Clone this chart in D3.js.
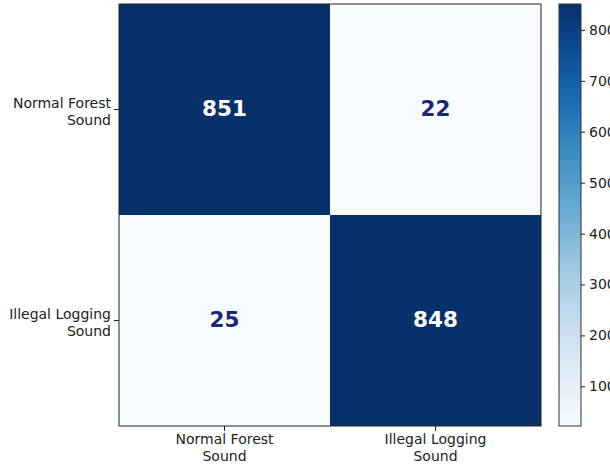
<!DOCTYPE html>
<html>
<head>
<meta charset="utf-8">
<script src="https://cdn.jsdelivr.net/npm/d3@7"></script>
<style>
  html, body { margin: 0; padding: 0; background: #ffffff; }
  svg { display: block; font-family: "DejaVu Sans", sans-serif; }
</style>
</head>
<body>
<svg id="chart" width="610" height="465"></svg>
<script>
// Confusion matrix: rows = true class, columns = predicted class
const classes = ["Normal Forest\nSound", "Illegal Logging\nSound"];
const rowNormal = [851, 22];
const rowLogging = [25, 848];
const matrix = [rowNormal, rowLogging];
const colorbarTicks = [100, 200, 300, 400, 500, 600, 700, 800];

const svg = d3.select("#chart");
const plot = { left: 119, top: 4, size: 422 };
const cbar = { left: 559, width: 22 };
const labelSize = 14;

const allVals = matrix.flat();
const vmin = d3.min(allVals), vmax = d3.max(allVals);
const color = d3.scaleSequential(d3.interpolateBlues).domain([vmin, vmax]);

const x = d3.scaleBand().domain(d3.range(classes.length))
  .range([plot.left, plot.left + plot.size]);
const y = d3.scaleBand().domain(d3.range(classes.length))
  .range([plot.top, plot.top + plot.size]);

const cells = [];
matrix.forEach((row, i) => row.forEach((v, j) => cells.push({ i, j, v })));

// heatmap cells
svg.append("g").selectAll("rect").data(cells).join("rect")
  .attr("x", d => x(d.j)).attr("y", d => y(d.i))
  .attr("width", x.bandwidth()).attr("height", y.bandwidth())
  .attr("fill", d => color(d.v));

// cell annotations
const thresh = (vmin + vmax) / 2;
svg.append("g").selectAll("text").data(cells).join("text")
  .attr("x", d => x(d.j) + x.bandwidth() / 2)
  .attr("y", d => y(d.i) + y.bandwidth() / 2)
  .attr("dy", "0.32em")
  .attr("text-anchor", "middle")
  .attr("font-size", 21.5).attr("font-weight", "bold")
  .attr("fill", d => d.v > thresh ? "#ffffff" : "#1c2677")
  .text(d => d.v);

// plot frame
svg.append("rect")
  .attr("x", plot.left).attr("y", plot.top)
  .attr("width", plot.size).attr("height", plot.size)
  .attr("fill", "none").attr("stroke", "#222").attr("stroke-width", 1);

function multiline(sel, anchor, dyFirst) {
  sel.each(function(d) {
    const t = d3.select(this);
    const lines = classes[d].split("\n");
    t.text(null).attr("text-anchor", anchor);
    lines.forEach((ln, k) => {
      t.append("tspan")
        .attr("x", t.attr("x") || 0)
        .attr("dy", k === 0 ? dyFirst : "1.2em")
        .text(ln);
    });
  });
}

// y axis (true labels)
const yAxis = svg.append("g").attr("transform", `translate(${plot.left},0)`)
  .call(d3.axisLeft(y).tickSize(5).tickPadding(3));
yAxis.select(".domain").remove();
yAxis.selectAll(".tick line").attr("stroke", "#222");
yAxis.selectAll(".tick text")
  .attr("font-size", labelSize).attr("fill", "#222")
  .attr("font-family", "DejaVu Sans, sans-serif")
  .attr("dy", null)
  .call(multiline, "end", "-0.1em");

// x axis (predicted labels)
const xAxis = svg.append("g").attr("transform", `translate(0,${plot.top + plot.size})`)
  .call(d3.axisBottom(x).tickSize(5).tickPadding(3));
xAxis.select(".domain").remove();
xAxis.selectAll(".tick line").attr("stroke", "#222");
xAxis.selectAll(".tick text")
  .attr("font-size", labelSize).attr("fill", "#222")
  .attr("font-family", "DejaVu Sans, sans-serif")
  .call(multiline, "middle", "0.71em");

// colorbar
const cy = d3.scaleLinear().domain([vmin, vmax]).range([plot.top + plot.size, plot.top]);
const defs = svg.append("defs");
const grad = defs.append("linearGradient").attr("id", "cbgrad")
  .attr("x1", 0).attr("y1", 1).attr("x2", 0).attr("y2", 0);
d3.range(0, 1.0001, 0.05).forEach(t => {
  grad.append("stop").attr("offset", t).attr("stop-color", d3.interpolateBlues(t));
});
svg.append("rect")
  .attr("x", cbar.left).attr("y", plot.top)
  .attr("width", cbar.width).attr("height", plot.size)
  .attr("fill", "url(#cbgrad)")
  .attr("stroke", "#333").attr("stroke-width", 1);

const cAxis = svg.append("g").attr("transform", `translate(${cbar.left + cbar.width},0)`)
  .call(d3.axisRight(cy).tickValues(colorbarTicks).tickSize(4).tickPadding(4));
cAxis.select(".domain").remove();
cAxis.selectAll(".tick line").attr("stroke", "#222");
cAxis.selectAll(".tick text")
  .attr("font-size", labelSize).attr("fill", "#222")
  .attr("font-family", "DejaVu Sans, sans-serif");
</script>
</body>
</html>
